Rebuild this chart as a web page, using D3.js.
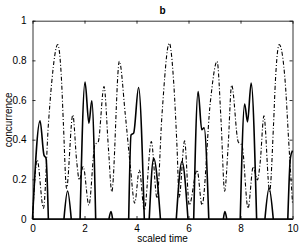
<!DOCTYPE html>
<html>
<head>
<meta charset="utf-8">
<script src="https://cdn.jsdelivr.net/npm/d3@7"></script>
<style>
  body { margin: 0; background: #fff; }
  text { font-family: "Liberation Sans", Arial, sans-serif; }
</style>
</head>
<body>
<svg></svg>
<script>
// solid curve
let solidTime = [0, 0.29, 0.44, 0.52, 0.61, 1.21, 1.35, 1.49, 1.83, 2.02, 2.17, 2.28, 2.43,
                 2.94, 3.02, 3.08, 3.7, 3.79, 3.89, 4.08, 4.3, 4.49, 4.66, 4.92, 5.53, 5.75, 5.98,
                 6.2, 6.37, 6.51, 6.6, 6.78, 7.34, 7.4, 7.47, 7.99, 8.16, 8.27, 8.41, 8.62,
                 8.94, 9.1, 9.26, 9.82, 9.92, 10];
let solidConc = [0, 0.495, 0.323, 0.306, 0, 0, 0.141, 0, 0, 0.69, 0.483, 0.596, 0,
                 0, 0.037, 0, 0, 0.424, 0.433, 0.663, 0, 0, 0.306, 0, 0, 0.29, 0,
                 0, 0.643, 0.45, 0.46, 0, 0, 0.037, 0, 0, 0.58, 0.49, 0.685, 0,
                 0, 0.155, 0, 0, 0.31, 0.345];

// dash-dot curve
let dashTime = [0, 0.18, 0.42, 0.61, 0.74, 0.97, 1.12, 1.19, 1.31, 1.55, 1.7, 1.8, 1.95, 2.17,
                2.4, 2.53, 2.75, 2.92, 3.05, 3.34, 3.57, 3.76, 3.93, 4.11, 4.3, 4.57, 4.79, 4.98,
                5.26, 5.43, 5.56, 5.64, 5.85, 6.03, 6.33, 6.52, 6.84, 7.1, 7.25, 7.39, 7.52, 7.66,
                7.91, 8.06, 8.29, 8.49, 8.65, 8.76, 8.9, 9.12, 9.27, 9.34, 9.49, 9.72, 9.85, 10];
let dashConc = [0, 0.298, 0.054, 0.475, 0.69, 0.88, 0.69, 0.475, 0.155, 0.525, 0.29, 0.197, 0.264, 0.07,
                0.374, 0.39, 0.668, 0.357, 0.138, 0.795, 0.525, 0.27, 0.08, 0.247, 0.045, 0.39, 0.105, 0.525,
                0.887, 0.69, 0.357, 0.11, 0.394, 0.07, 0.247, 0.07, 0.59, 0.795, 0.5, 0.14, 0.357, 0.675,
                0.39, 0.37, 0.054, 0.264, 0.197, 0.29, 0.52, 0.14, 0.475, 0.69, 0.88, 0.69, 0.4, 0.08];

let xTicks = [0, 2, 4, 6, 8, 10];
let yTicks = [0, 0.2, 0.4, 0.6, 0.8, 1];

let width = 300;
let height = 245;
let padLeft = 32.5, padRight = 292.5, padTop = 20.7, padBottom = 219;

let svg = d3.select("svg")
    .attr("width", width)
    .attr("height", height);

let xScale = d3.scaleLinear().domain([0, 10]).range([padLeft, padRight]);
let yScale = d3.scaleLinear().domain([0, 1]).range([padBottom, padTop]);

// axes, MATLAB style box with ticks inside
let fmt = d => String(d);
svg.append("g")
    .attr("transform", "translate(0," + padBottom + ")")
    .call(d3.axisBottom(xScale).tickValues(xTicks).tickSizeInner(-3).tickSizeOuter(0).tickPadding(6).tickFormat(fmt));
svg.append("g")
    .attr("transform", "translate(0," + padTop + ")")
    .call(d3.axisTop(xScale).tickValues(xTicks).tickSizeInner(-3).tickSizeOuter(0).tickFormat(""));
svg.append("g")
    .attr("transform", "translate(" + padLeft + ",0)")
    .call(d3.axisLeft(yScale).tickValues(yTicks).tickSizeInner(-3).tickSizeOuter(0).tickPadding(6).tickFormat(fmt));
svg.append("g")
    .attr("transform", "translate(" + padRight + ",0)")
    .call(d3.axisRight(yScale).tickValues(yTicks).tickSizeInner(-3).tickSizeOuter(0).tickFormat(""));

svg.selectAll(".domain").attr("stroke", "#000").attr("stroke-width", 0.8);
svg.selectAll(".tick line").attr("stroke", "#000").attr("stroke-width", 0.8);
svg.selectAll(".tick text").style("font-size", "10px").attr("fill", "#000");

// curves
let line = d3.line()
    .x(d => xScale(d[0]))
    .y(d => yScale(d[1]))
    .curve(d3.curveMonotoneX);

let dashPts = dashTime.map((t, i) => [t, dashConc[i]]);
svg.append("path")
    .attr("d", line(dashPts))
    .attr("fill", "none")
    .attr("stroke", "#000")
    .attr("stroke-width", 1.1)
    .attr("stroke-dasharray", "4,2,1,2");

// solid: split into bumps between zeros so the feet stay sharp
let solidPts = solidTime.map((t, i) => [t, solidConc[i]]);
let bumps = [];
let cur = null;
solidPts.forEach((p, i) => {
    if (p[1] === 0) {
        if (cur) { cur.push(p); bumps.push(cur); cur = null; }
        if (i < solidPts.length - 1 && solidPts[i + 1][1] !== 0) cur = [p];
    } else {
        if (!cur) cur = [p];
        else cur.push(p);
    }
});
if (cur) bumps.push(cur);

svg.selectAll(".bump")
    .data(bumps)
    .enter()
    .append("path")
    .attr("class", "bump")
    .attr("d", d => line(d))
    .attr("fill", "none")
    .attr("stroke", "#000")
    .attr("stroke-width", 1.6);

svg.append("line")
    .attr("x1", xScale(0)).attr("x2", xScale(10))
    .attr("y1", yScale(0)).attr("y2", yScale(0))
    .attr("stroke", "#000")
    .attr("stroke-width", 1.4);

// labels
svg.append("text")
    .attr("x", (padLeft + padRight) / 2)
    .attr("y", 14)
    .style("text-anchor", "middle")
    .style("font-size", "10px")
    .style("font-weight", "bold")
    .text("b");

svg.append("text")
    .attr("x", (padLeft + padRight) / 2)
    .attr("y", 242)
    .style("text-anchor", "middle")
    .style("font-size", "10px")
    .text("scaled time");

svg.append("text")
    .attr("transform", "translate(12," + ((padTop + padBottom) / 2) + ")rotate(-90)")
    .style("text-anchor", "middle")
    .style("font-size", "10px")
    .text("concurrence");
</script>
</body>
</html>
